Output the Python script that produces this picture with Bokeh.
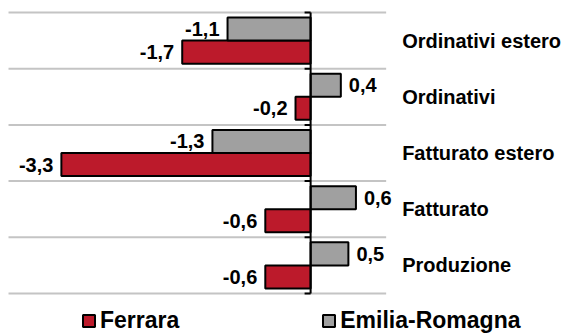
from bokeh.plotting import figure
from bokeh.models import Range1d, Legend, LegendItem, ColumnDataSource
from bokeh.core.properties import value
from bokeh.embed import file_html
from bokeh.resources import INLINE

categories = ["Ordinativi estero", "Ordinativi", "Fatturato estero", "Fatturato", "Produzione"]
ferrara = [-1.7, -0.2, -3.3, -0.6, -0.6]
emilia = [-1.1, 0.4, -1.3, 0.6, 0.5]
series_names = ["Ferrara", "Emilia-Romagna"]
x_min, x_max = -4, 1

RED = "#BC1A2B"
GRAY = "#A0A0A0"
GRID = "#C4C4C4"
FONT = "Liberation Sans"

n = len(categories)
centers = [n - 1 - i + 0.5 for i in range(n)]
bar_h = 0.41

p = figure(width=575, height=336, x_range=Range1d(-4.106, 3.507),
           y_range=Range1d(-0.765, n + 0.2135),
           output_backend="svg", toolbar_location=None,
           x_axis_location=None, y_axis_location=None,
           min_border_left=0, min_border_top=0, min_border_bottom=0,
           min_border_right=0)
p.outline_line_color = None
p.grid.visible = False

# horizontal separators between categories
bounds = list(range(n + 1))
p.segment(x0=[x_min] * len(bounds), x1=[x_max] * len(bounds), y0=bounds, y1=bounds,
          line_color=GRID, line_width=2)

src_f = ColumnDataSource(dict(y=[c - bar_h / 2 for c in centers], v=ferrara))
src_e = ColumnDataSource(dict(y=[c + bar_h / 2 for c in centers], v=emilia))

r_f = p.hbar(y="y", left=0, right="v", height=bar_h, source=src_f,
             fill_color=RED, line_color="black", line_width=2)
r_e = p.hbar(y="y", left=0, right="v", height=bar_h, source=src_e,
             fill_color=GRAY, line_color="black", line_width=2)

# zero axis line with boundary ticks
p.segment(x0=[0], x1=[0], y0=[0], y1=[n], line_color="black", line_width=2)
p.segment(x0=[-0.08] * len(bounds), x1=[0] * len(bounds), y0=bounds, y1=bounds,
          line_color="black", line_width=2)

# category labels at the right of the plotting area
cat_src = ColumnDataSource(dict(x=[x_max] * n, y=centers, t=categories))
p.text(x="x", y="y", text="t", source=cat_src, x_offset=16, text_align="left",
       text_baseline="middle", text_font=value(FONT), text_font_size="20px",
       text_font_style="bold", text_color="black")

def fmt(v):
    return f"{v:.1f}".replace(".", ",")

lab_y, lab_x, lab_t, lab_a, lab_o = [], [], [], [], []
for ys, vals in ((src_f.data["y"], ferrara), (src_e.data["y"], emilia)):
    for y, v in zip(ys, vals):
        lab_y.append(y)
        lab_x.append(v)
        lab_t.append(fmt(v))
        lab_a.append("right" if v < 0 else "left")
        lab_o.append(-8 if v < 0 else 8)
lab_src = ColumnDataSource(dict(x=lab_x, y=lab_y, t=lab_t, a=lab_a, o=lab_o))
p.text(x="x", y="y", text="t", source=lab_src, text_align="a", x_offset="o",
       text_baseline="middle", text_font=value(FONT), text_font_size="20px",
       text_font_style="bold", text_color="black")

legend = Legend(items=[LegendItem(label=series_names[0], renderers=[r_f]),
                       LegendItem(label=series_names[1], renderers=[r_e])],
                orientation="horizontal", location=(81, 2), padding=0, margin=0,
                spacing=142, label_standoff=4, glyph_width=15, glyph_height=15,
                border_line_color=None, background_fill_alpha=0,
                label_text_font=FONT, label_text_font_size="23px",
                label_text_font_style="bold", label_text_color="black")
p.add_layout(legend)

open("out.html", "w").write(file_html(p, INLINE))
